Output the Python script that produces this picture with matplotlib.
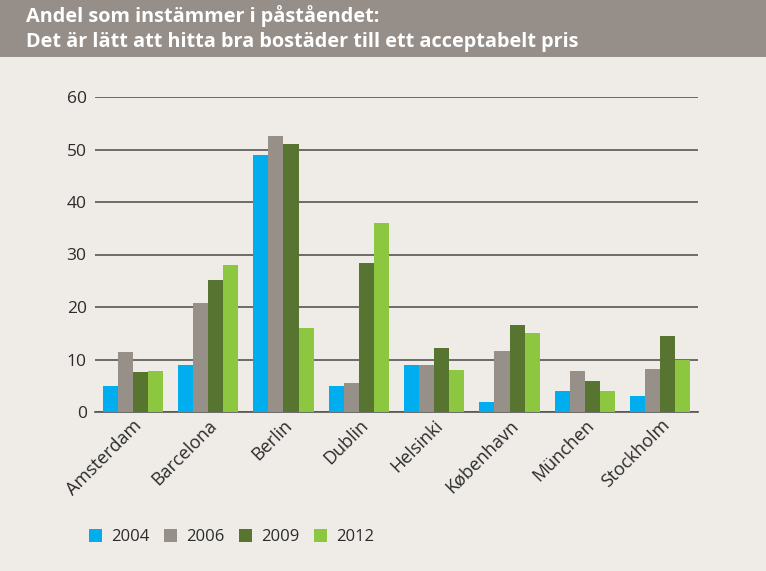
import numpy as np
import matplotlib.pyplot as plt
from matplotlib.patches import Rectangle

cities = ["Amsterdam", "Barcelona", "Berlin", "Dublin", "Helsinki", "København", "München", "Stockholm"]
years = ["2004", "2006", "2009", "2012"]
v2004 = [5, 9, 49, 5, 9, 2, 4, 3]
v2006 = [11.4, 20.8, 52.5, 5.6, 8.9, 11.6, 7.9, 8.2]
v2009 = [7.6, 25.2, 51, 28.3, 12.2, 16.6, 6, 14.5]
v2012 = [7.8, 28, 16, 36, 8, 15, 4, 10]
series = [v2004, v2006, v2009, v2012]
colors = ["#00aeef", "#979089", "#577431", "#8dc63f"]

plt.rcParams['font.family'] = ['Open Sans', 'DejaVu Sans']
bg = "#efece8"
txt = "#2b2b2b"
fig = plt.figure(figsize=(7.66, 5.71), dpi=100, facecolor=bg)

# header band
fig.patches.append(Rectangle((0, 1 - 57/571), 1, 57/571, transform=fig.transFigure,
                             facecolor="#968e89", edgecolor="none", zorder=0))
fig.text(26/766, 1 - 16/571, "Andel som instämmer i påståendet:", color="white",
         fontsize=14.3, fontweight="bold", va="center", ha="left")
fig.text(26/766, 1 - 42/571, "Det är lätt att hitta bra bostäder till ett acceptabelt pris", color="white",
         fontsize=14.3, fontweight="bold", va="center", ha="left")

ax = fig.add_axes([95/766, 1 - 412/571, 603/766, 315/571])
ax.set_facecolor(bg)
x = np.arange(len(cities))
w = 0.2
for i, (vals, c, yr) in enumerate(zip(series, colors, years)):
    ax.bar(x + (i - 1.5) * w, vals, w, color=c, label=yr, zorder=3)

ax.set_xlim(-0.5, 7.5)
ax.set_ylim(0, 60)
ax.set_yticks(range(0, 61, 10))
ax.yaxis.grid(True, color="#555555", linewidth=1.2, zorder=0)
ax.set_axisbelow(True)
for s in ["top", "right", "left"]:
    ax.spines[s].set_visible(False)
ax.spines["bottom"].set_color("#555555")
ax.spines["bottom"].set_linewidth(1.2)
ax.tick_params(axis="y", length=0, pad=6, labelsize=12.5, labelcolor=txt)
ax.tick_params(axis="x", length=0, pad=3, labelsize=13, labelcolor=txt)
ax.set_xticks(x)
ax.set_xticklabels(cities, rotation=45, ha="right", rotation_mode="anchor")

fig.legend(loc="center left", bbox_to_anchor=(74/766, 1 - 537/571), ncol=4, frameon=False,
           fontsize=12, handlelength=0.8, handleheight=0.8, columnspacing=0.9, handletextpad=0.5,
           labelcolor=txt)

fig.savefig("out.png", dpi=100, facecolor=bg)
